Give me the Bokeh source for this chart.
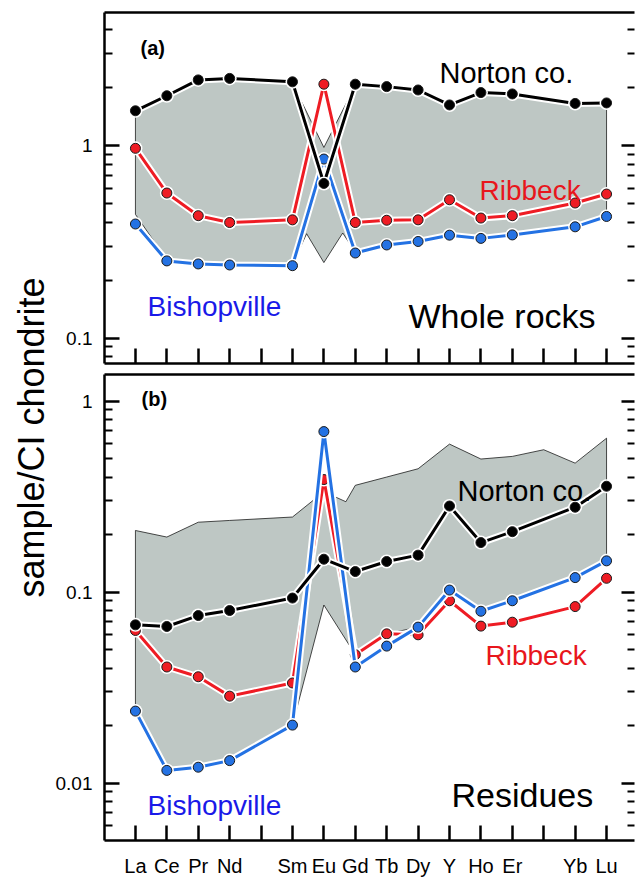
import math
from bokeh.plotting import figure
from bokeh.models import FixedTicker, LinearAxis, LogAxis, Label, Range1d
from bokeh.layouts import row, column
from bokeh.embed import file_html
from bokeh.resources import INLINE

# ---------------- data ----------------
slots = ["La", "Ce", "Pr", "Nd", "Pm", "Sm", "Eu", "Gd", "Tb", "Dy", "Y", "Ho", "Er", "Tm", "Yb", "Lu"]
tick_labels = ["La", "Ce", "Pr", "Nd", "", "Sm", "Eu", "Gd", "Tb", "Dy", "Y", "Ho", "Er", "", "Yb", "Lu"]
elements = ["La", "Ce", "Pr", "Nd", "Sm", "Eu", "Gd", "Tb", "Dy", "Y", "Ho", "Er", "Yb", "Lu"]

# (a) whole rocks
norton_a = [1.52, 1.82, 2.20, 2.24, 2.15, 0.637, 2.09, 2.03, 1.95, 1.63, 1.89, 1.86, 1.66, 1.67]
ribbeck_a = [0.97, 0.568, 0.433, 0.399, 0.412, 2.09, 0.399, 0.41, 0.412, 0.524, 0.421, 0.433, 0.504, 0.561]
bishop_a = [0.392, 0.252, 0.243, 0.24, 0.238, 0.853, 0.277, 0.305, 0.318, 0.343, 0.33, 0.344, 0.379, 0.429]
band_a_upper = [1.50, 1.80, 2.17, 2.21, 2.12, 0.98, 2.06, 2.00, 1.93, 1.61, 1.87, 1.84, 1.64, 1.65]
band_a_lower_pos = [0, 1, 2, 3, 5, 5.45, 6, 6.6, 7, 8, 9, 10, 11, 12, 14, 15]
band_a_lower = [0.44, 0.255, 0.246, 0.243, 0.241, 0.349, 0.247, 0.352, 0.28, 0.308, 0.321, 0.346,
                0.333, 0.347, 0.382, 0.432]

# (b) residues
norton_b = [0.0673, 0.066, 0.0753, 0.080, 0.093, 0.1485, 0.128, 0.1445, 0.156, 0.282, 0.1815, 0.207, 0.278, 0.358]
ribbeck_b = [0.0629, 0.0405, 0.036, 0.0285, 0.0334, 0.388, 0.047, 0.0604, 0.0597, 0.090, 0.0663, 0.0695, 0.0839, 0.118]
bishop_b = [0.0238, 0.01164, 0.0121, 0.0131, 0.0201, 0.692, 0.0405, 0.0521, 0.0655, 0.1024, 0.0793, 0.090, 0.119, 0.1456]
band_b_upper_pos = [0, 1, 2, 3, 5, 6, 6.7, 7, 8, 9, 10, 11, 12, 13, 14, 15]
band_b_upper = [0.21, 0.194, 0.232, 0.237, 0.247, 0.335, 0.297, 0.362, 0.40, 0.442, 0.595, 0.497, 0.513, 0.556, 0.473, 0.639]
band_b_lower = [0.0238, 0.01164, 0.0121, 0.0131, 0.0201, 0.0855, 0.047, 0.0604, 0.0655, 0.1024, 0.0793, 0.090, 0.119, 0.1456]

ticks_a_major = [0.1, 1]
ticks_a_labels = ["0.1", "1"]
ticks_a_minor = [0.08, 0.09, 0.2, 0.3, 0.4, 0.5, 0.6, 0.7, 0.8, 0.9, 2, 3, 4]
ticks_b_major = [0.01, 0.1, 1]
ticks_b_labels = ["0.01", "0.1", "1"]
ticks_b_minor = [0.006, 0.007, 0.008, 0.009, 0.02, 0.03, 0.04, 0.05, 0.06, 0.07, 0.08, 0.09,
                 0.2, 0.3, 0.4, 0.5, 0.6, 0.7, 0.8, 0.9]

pos = [slots.index(e) for e in elements]

FONT = "Liberation Sans"
GREY = "#bec7c4"
RED = "#ee1c24"
BLUE = "#2472e3"
RED_TXT = "#e8161c"
BLUE_TXT = "#1a1ae8"

STRIP_W = 52
LEFT = 51
FIG_W = 635 - STRIP_W
FRAME_LEFT = STRIP_W + LEFT


def make_panel(h, yr, bt, bb, majors, labels, minors, show_x):
    p = figure(width=FIG_W, height=h, x_range=Range1d(-0.985, 15.89), y_range=Range1d(*yr),
               y_axis_type="log", output_backend="svg", toolbar_location=None,
               min_border_left=LEFT, min_border_right=1, min_border_top=bt, min_border_bottom=bb)
    p.outline_line_color = None
    p.grid.visible = False

    xa = p.xaxis[0]
    xa.ticker = FixedTicker(ticks=list(range(len(slots))), minor_ticks=[])
    xa.major_tick_in = 15
    xa.major_tick_out = 0
    xa.minor_tick_in = 0
    xa.minor_tick_out = 0
    xa.axis_line_width = 2.5
    xa.major_tick_line_width = 2.5
    if show_x:
        xa.major_label_overrides = {i: t for i, t in enumerate(tick_labels)}
        xa.major_label_text_font_size = "20px"
        xa.major_label_text_font = FONT
        xa.major_label_text_color = "black"
        xa.major_label_standoff = 14
    else:
        xa.major_label_overrides = {i: "" for i in range(len(slots))}
        xa.major_label_text_font_size = "0px"
        xa.major_label_standoff = 0

    ya = p.yaxis[0]
    ya.ticker = FixedTicker(ticks=majors, minor_ticks=minors)
    ya.major_label_overrides = {m: l for m, l in zip(majors, labels)}
    ya.major_label_text_font_size = "19px"
    ya.major_label_text_font = FONT
    ya.major_label_text_color = "black"
    ya.major_label_standoff = 12
    ya.major_tick_in = 15
    ya.major_tick_out = 0
    ya.minor_tick_in = 8
    ya.minor_tick_out = 0
    ya.axis_line_width = 2.5
    ya.major_tick_line_width = 2.5
    ya.minor_tick_line_width = 2.2

    top = LinearAxis(ticker=FixedTicker(ticks=[]), major_label_text_font_size="0px",
                     major_tick_in=0, major_tick_out=0, minor_tick_in=0, minor_tick_out=0,
                     axis_line_width=2.5, major_label_standoff=0)
    p.add_layout(top, "above")

    ra = LogAxis(ticker=FixedTicker(ticks=majors, minor_ticks=minors),
                 major_label_overrides={m: "" for m in majors},
                 major_label_text_font_size="0px", major_label_standoff=0,
                 major_tick_in=13, major_tick_out=0, minor_tick_in=7, minor_tick_out=0,
                 major_tick_line_width=2.5, minor_tick_line_width=2.2, axis_line_color=None)
    p.add_layout(ra, "right")
    return p


def series(p, ys, line_color, fill_color):
    p.line(pos, ys, line_color="white", line_width=7)
    p.line(pos, ys, line_color=line_color, line_width=3)
    p.scatter(pos, ys, size=14, fill_color="white", line_color=None)
    p.scatter(pos, ys, size=10, fill_color=fill_color, line_color="#1a1a1a", line_width=1)


def band(p, up_x, up_y, lo_x, lo_y):
    xs = list(up_x) + list(reversed(lo_x))
    ys = list(up_y) + list(reversed(lo_y))
    p.patch(xs, ys, fill_color=GREY, line_color="black", line_width=0.7)


def text(p, txt, px, py, frame_bottom, size, color="black", bold=False):
    # px, py: page position of the text's left end / baseline
    p.add_layout(Label(x=px - FRAME_LEFT, y=frame_bottom - py, x_units="screen", y_units="screen",
                       text=txt, text_font=FONT, text_font_size=size, text_color=color,
                       text_font_style="bold" if bold else "normal",
                       text_align="left", text_baseline="alphabetic"))


# ---------------- panel (a) ----------------
BT1, FH1, BB1 = 12, 351, 6
H1 = BT1 + FH1 + BB1
pa = make_panel(H1, (0.0738, 4.93), BT1, BB1, ticks_a_major, ticks_a_labels, ticks_a_minor, False)
band(pa, pos, band_a_upper, band_a_lower_pos, band_a_lower)
series(pa, ribbeck_a, RED, RED)
series(pa, bishop_a, BLUE, BLUE)
series(pa, norton_a, "black", "black")
FB1 = BT1 + FH1
text(pa, "(a)", 139, 47, FB1, "20px", bold=True)
text(pa, "Norton co.", 438, 72, FB1, "29px")
text(pa, "Ribbeck", 478, 190, FB1, "28px", RED_TXT)
text(pa, "Bishopville", 146, 306, FB1, "28px", BLUE_TXT)
text(pa, "Whole rocks", 407, 315, FB1, "34px")

# ---------------- panel (b) ----------------
BT2, FH2, BB2 = 5, 468, 37
H2 = BT2 + FH2 + BB2
pb = make_panel(H2, (0.005, 1.377), BT2, BB2, ticks_b_major, ticks_b_labels, ticks_b_minor, True)
band(pb, band_b_upper_pos, band_b_upper, pos, band_b_lower)
series(pb, ribbeck_b, RED, RED)
series(pb, bishop_b, BLUE, BLUE)
series(pb, norton_b, "black", "black")
FB2 = H1 + BT2 + FH2
text(pb, "(b)", 140, 400, FB2, "20px", bold=True)
text(pb, "Norton co.", 456, 492, FB2, "29px")
text(pb, "Ribbeck", 484, 657, FB2, "28px", RED_TXT)
text(pb, "Bishopville", 146, 807, FB2, "28px", BLUE_TXT)
text(pb, "Residues", 450, 796, FB2, "34px")

# ---------------- y label strip ----------------
HT = H1 + H2
pl = figure(width=STRIP_W, height=HT, x_range=Range1d(0, 1), y_range=Range1d(0, 1),
            output_backend="svg", toolbar_location=None, x_axis_location=None,
            y_axis_location=None, min_border=0)
pl.outline_line_color = None
pl.grid.visible = False
pl.add_layout(Label(x=31, y=HT - 437, x_units="screen", y_units="screen",
                    text="sample/CI chondrite", angle=math.pi / 2, text_align="center",
                    text_baseline="middle", text_font=FONT, text_font_size="36px",
                    text_color="black"))

layout = row(pl, column(pa, pb))
open("out.html", "w").write(file_html(layout, INLINE))
